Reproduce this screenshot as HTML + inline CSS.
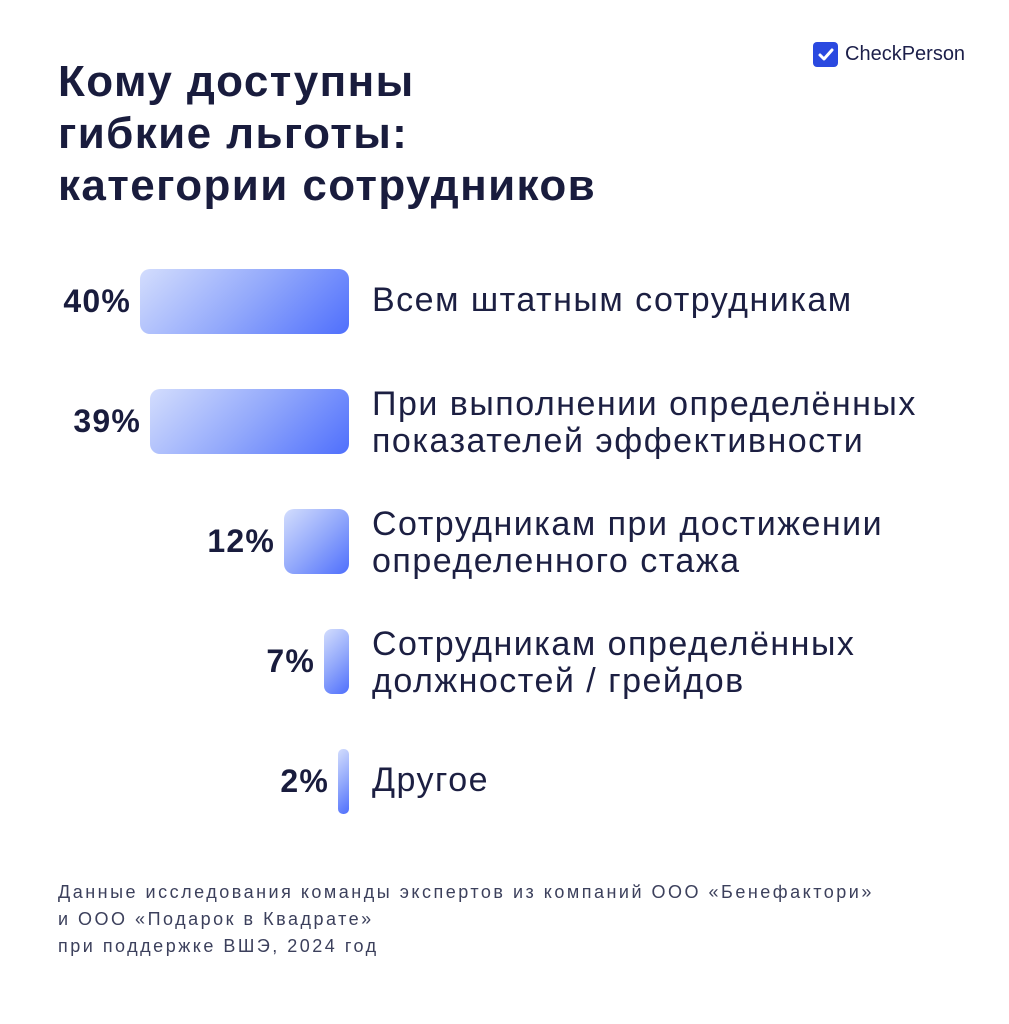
<!DOCTYPE html>
<html><head><meta charset="utf-8"><style>
body{margin:0;width:1009px;height:1024px;background:#fff;position:relative;font-family:"Liberation Sans",sans-serif;color:#191c3d;overflow:hidden}
.t{position:absolute;left:58px;top:56px;font-size:44px;font-weight:bold;line-height:52px;letter-spacing:1.4px}
.bar{position:absolute;border-radius:10px;background:linear-gradient(135deg,#d3ddfd 0%,#93a9fb 50%,#4f6ffc 100%)}
.p{position:absolute;font-size:32px;font-weight:bold;text-align:right;width:140px;letter-spacing:1.2px}
.l{position:absolute;left:372px;font-size:34px;line-height:37px;color:#1c1f42;letter-spacing:1.5px}
.f{position:absolute;left:58px;top:879px;font-size:18px;line-height:27px;color:#3c405c;letter-spacing:2.5px}
</style></head><body>
<div class="t">Кому доступны<br>гибкие льготы:<br>категории сотрудников</div>
<div style="position:absolute;left:813px;top:42px;width:25px;height:25px;background:#2a49e0;border-radius:4px"></div>
<svg style="position:absolute;left:813px;top:42px" width="25" height="25"><path d="M7 13l4 4 8-9" stroke="#fff" stroke-width="3" fill="none" stroke-linecap="round" stroke-linejoin="round"/></svg>
<div style="position:absolute;left:845px;top:43px;font-size:20px;color:#1c1f4a">CheckPerson</div>

<div class="bar" style="left:140px;top:269px;width:209px;height:65px"></div>
<div class="p" style="left:-9px;top:283px">40%</div>
<div class="l" style="top:282px">Всем штатным сотрудникам</div>

<div class="bar" style="left:150px;top:389px;width:199px;height:65px"></div>
<div class="p" style="left:1px;top:403px">39%</div>
<div class="l" style="top:386px">При выполнении определённых<br>показателей эффективности</div>

<div class="bar" style="left:284px;top:509px;width:65px;height:65px"></div>
<div class="p" style="left:135px;top:523px">12%</div>
<div class="l" style="top:506px">Сотрудникам при достижении<br>определенного стажа</div>

<div class="bar" style="left:324px;top:629px;width:25px;height:65px;border-radius:8px"></div>
<div class="p" style="left:175px;top:643px">7%</div>
<div class="l" style="top:626px">Сотрудникам определённых<br>должностей / грейдов</div>

<div class="bar" style="left:338px;top:749px;width:11px;height:65px;border-radius:5px"></div>
<div class="p" style="left:189px;top:763px">2%</div>
<div class="l" style="top:762px">Другое</div>

<div class="f">Данные исследования команды экспертов из компаний ООО «Бенефактори»<br>и ООО «Подарок в Квадрате»<br>при поддержке ВШЭ, 2024 год</div>
</body></html>
